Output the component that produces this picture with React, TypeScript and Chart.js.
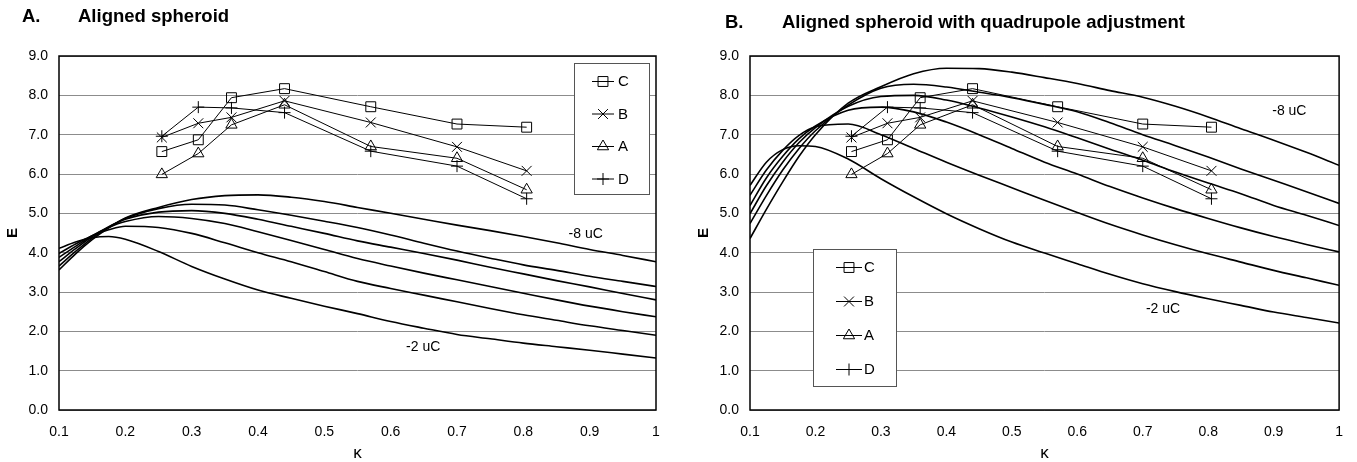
import React, { useEffect, useRef } from "react";
import { Chart, registerables } from "chart.js";
import { drawPoint } from "chart.js/helpers";

Chart.register(...registerables);

const FONT = "'Liberation Sans', Arial, Helvetica, sans-serif";

// ---- axis ticks ----
const xTickValues = [0.1, 0.2, 0.3, 0.4, 0.5, 0.6, 0.7, 0.8, 0.9, 1.0];
const yTickValues = [0, 1, 2, 3, 4, 5, 6, 7, 8, 9];

// ---- measured series (same in both panels) ----
const kappaData = [0.255, 0.31, 0.36, 0.44, 0.57, 0.7, 0.805];
const seriesNames = ["C", "B", "A", "D"];
const seriesC = [6.57, 6.87, 7.94, 8.17, 7.71, 7.27, 7.19];
const seriesB = [6.93, 7.29, 7.44, 7.86, 7.31, 6.69, 6.08];
const seriesA = [5.99, 6.52, 7.25, 7.76, 6.7, 6.4, 5.6];
const seriesD = [6.96, 7.7, 7.68, 7.56, 6.58, 6.2, 5.37];

// ---- model curves ----
const kappaCurve = [0.1, 0.125, 0.15, 0.175, 0.2, 0.25, 0.3, 0.35, 0.4, 0.45, 0.5, 0.55, 0.6, 0.65, 0.7, 0.75, 0.8, 0.85, 0.9, 0.95, 1.0];

// Panel A: aligned spheroid (-2 uC ... -8 uC)
const leftCurve1 = [4.11, 4.27, 4.38, 4.41, 4.34, 4.03, 3.65, 3.33, 3.05, 2.84, 2.64, 2.45, 2.25, 2.08, 1.92, 1.81, 1.7, 1.61, 1.52, 1.42, 1.32];
const leftCurve2 = [3.98, 4.22, 4.43, 4.58, 4.67, 4.64, 4.49, 4.25, 4.0, 3.77, 3.52, 3.27, 3.09, 2.92, 2.75, 2.58, 2.42, 2.28, 2.14, 2.02, 1.9];
const leftCurve3 = [3.88, 4.16, 4.43, 4.64, 4.79, 4.92, 4.87, 4.74, 4.53, 4.31, 4.08, 3.85, 3.66, 3.48, 3.31, 3.14, 2.97, 2.8, 2.64, 2.5, 2.37];
const leftCurve4 = [3.77, 4.1, 4.41, 4.66, 4.85, 5.03, 5.07, 5.0, 4.85, 4.67, 4.49, 4.3, 4.14, 3.98, 3.81, 3.63, 3.46, 3.29, 3.13, 2.96, 2.8];
const leftCurve5 = [3.66, 4.03, 4.37, 4.65, 4.87, 5.12, 5.23, 5.21, 5.09, 4.95, 4.8, 4.64, 4.45, 4.24, 4.04, 3.86, 3.69, 3.55, 3.4, 3.27, 3.14];
const leftCurve6 = [3.56, 3.97, 4.33, 4.63, 4.88, 5.15, 5.35, 5.45, 5.47, 5.41, 5.3, 5.15, 5.0, 4.85, 4.7, 4.56, 4.41, 4.25, 4.08, 3.93, 3.77];

// Panel B: with quadrupole adjustment
const rightCurve1 = [5.71, 6.3, 6.62, 6.72, 6.7, 6.38, 5.88, 5.42, 4.99, 4.61, 4.27, 3.99, 3.72, 3.45, 3.21, 3.01, 2.83, 2.66, 2.49, 2.35, 2.21];
const rightCurve2 = [5.46, 6.1, 6.6, 6.98, 7.2, 7.27, 7.0, 6.65, 6.3, 5.97, 5.65, 5.33, 5.02, 4.72, 4.45, 4.2, 3.97, 3.76, 3.55, 3.36, 3.17];
const rightCurve3 = [5.2, 5.9, 6.45, 6.9, 7.22, 7.62, 7.7, 7.58, 7.32, 7.0, 6.65, 6.3, 6.0, 5.68, 5.39, 5.12, 4.87, 4.63, 4.41, 4.21, 4.02];
const rightCurve4 = [4.99, 5.7, 6.3, 6.8, 7.18, 7.72, 7.97, 8.0, 7.88, 7.68, 7.45, 7.2, 6.92, 6.63, 6.35, 6.05, 5.77, 5.5, 5.2, 4.95, 4.69];
const rightCurve5 = [4.74, 5.45, 6.1, 6.65, 7.1, 7.75, 8.18, 8.28, 8.21, 8.08, 7.94, 7.77, 7.58, 7.3, 7.0, 6.72, 6.43, 6.13, 5.84, 5.55, 5.25];
const rightCurve6 = [4.36, 5.1, 5.8, 6.45, 7.0, 7.8, 8.22, 8.55, 8.69, 8.68, 8.59, 8.45, 8.3, 8.12, 7.95, 7.72, 7.45, 7.15, 6.86, 6.55, 6.22];

// ---- curve labels (data coordinates) ----
const leftNotes = [
  { text: "-8 uC", x: 0.894, y: 4.47 },
  { text: "-2 uC", x: 0.649, y: 1.61 },
];
const rightNotes = [
  { text: "-8 uC", x: 0.924, y: 7.59 },
  { text: "-2 uC", x: 0.731, y: 2.56 },
];

const markerStyle: Record<string, { style: string; radius: number }> = {
  C: { style: "rect", radius: 7 },
  B: { style: "crossRot", radius: 7 },
  A: { style: "triangle", radius: 6.5 },
  D: { style: "cross", radius: 6 },
};

const extrasPlugin = {
  id: "panelExtras",
  beforeDatasetsDraw(chart: any) {
    const { ctx, chartArea: a } = chart;
    ctx.save();
    ctx.strokeStyle = "#000";
    ctx.lineWidth = 1.5;
    ctx.strokeRect(a.left, a.top, a.right - a.left, a.bottom - a.top);
    ctx.restore();
  },
  afterDatasetsDraw(chart: any, _args: any, opts: any) {
    const { ctx } = chart;
    const xs = chart.scales.x;
    const ys = chart.scales.y;
    ctx.save();
    ctx.fillStyle = "#000";
    ctx.font = `14px ${FONT}`;
    ctx.textAlign = "center";
    ctx.textBaseline = "middle";
    for (const n of opts.notes || []) {
      ctx.fillText(n.text, xs.getPixelForValue(n.x), ys.getPixelForValue(n.y));
    }
    const L = opts.legend;
    if (L) {
      ctx.fillStyle = "#fff";
      ctx.fillRect(L.x, L.y, L.w, L.h);
      ctx.strokeStyle = "#555";
      ctx.lineWidth = 1;
      ctx.strokeRect(L.x + 0.5, L.y + 0.5, L.w, L.h);
      seriesNames.forEach((name, i) => {
        const cy = L.y + L.first + i * L.gap;
        ctx.strokeStyle = "#000";
        ctx.lineWidth = 1;
        ctx.beginPath();
        ctx.moveTo(L.lineX0, cy + 0.5);
        ctx.lineTo(L.lineX1, cy + 0.5);
        ctx.stroke();
        const m = markerStyle[name];
        ctx.fillStyle = "rgba(0,0,0,0)";
        drawPoint(ctx, { pointStyle: m.style, radius: m.radius, rotation: 0, borderWidth: 1 } as any, (L.lineX0 + L.lineX1) / 2, cy + 0.5);
        ctx.fillStyle = "#000";
        ctx.font = `15px ${FONT}`;
        ctx.textAlign = "left";
        ctx.textBaseline = "middle";
        ctx.fillText(name, L.textX, cy + 1);
      });
    }
    ctx.restore();
  },
};

function buildConfig(p: any) {
  const curveSets = p.curves.map((c: number[]) => ({
    data: kappaCurve.map((k, i) => ({ x: k, y: c[i] })),
    borderColor: "#000",
    borderWidth: 1.6,
    pointRadius: 0,
    cubicInterpolationMode: "monotone",
    fill: false,
  }));
  const seriesValues: Record<string, number[]> = { C: seriesC, B: seriesB, A: seriesA, D: seriesD };
  const dataSets = seriesNames.map((name) => ({
    label: name,
    data: kappaData.map((k, i) => ({ x: k, y: seriesValues[name][i] })),
    borderColor: "#000",
    borderWidth: 1,
    pointStyle: markerStyle[name].style,
    pointRadius: markerStyle[name].radius,
    pointBorderColor: "#000",
    pointBackgroundColor: "rgba(0,0,0,0)",
    pointBorderWidth: 1,
    tension: 0,
    fill: false,
  }));
  return {
    type: "line",
    data: { datasets: [...dataSets, ...curveSets] },
    plugins: [extrasPlugin],
    options: {
      responsive: false,
      animation: false,
      devicePixelRatio: 1,
      layout: { padding: { left: 0, top: p.top, right: p.right, bottom: 0 } },
      plugins: {
        legend: { display: false },
        tooltip: { enabled: false },
        panelExtras: { notes: p.notes, legend: p.legend },
      },
      scales: {
        x: {
          type: "linear",
          min: 0.1,
          max: 1.0,
          afterBuildTicks: (s: any) => {
            s.ticks = xTickValues.map((v) => ({ value: v }));
          },
          afterFit: (s: any) => {
            s.height = 52;
          },
          ticks: {
            autoSkip: false,
            maxRotation: 0,
            padding: 14,
            color: "#000",
            font: { family: FONT, size: 14 },
            callback: (v: number) => (Math.abs(v - 1) < 1e-9 ? "1" : Number(v).toFixed(1)),
          },
          grid: { display: false, drawTicks: false },
          border: { display: false },
          title: {
            display: true,
            text: "κ",
            color: "#000",
            font: { family: FONT, size: 17, lineHeight: 1 },
            padding: { top: 0, bottom: 0.5 },
          },
        },
        y: {
          type: "linear",
          min: 0,
          max: 9,
          afterBuildTicks: (s: any) => {
            s.ticks = yTickValues.map((v) => ({ value: v }));
          },
          afterFit: (s: any) => {
            s.width = p.yWidth;
          },
          ticks: {
            padding: 11,
            color: "#000",
            font: { family: FONT, size: 14 },
            callback: (v: number) => Number(v).toFixed(1),
          },
          grid: { color: "#8c8c8c", lineWidth: 1, drawTicks: false },
          border: { display: false },
          title: {
            display: true,
            text: "E",
            color: "#000",
            font: { family: FONT, size: 15, weight: "bold", lineHeight: 1.2 },
            padding: { top: p.yTitlePad, bottom: 0 },
          },
        },
      },
    },
  };
}

function Panel({ cfg, left, width }: { cfg: any; left: number; width: number }) {
  const ref = useRef<HTMLCanvasElement | null>(null);
  useEffect(() => {
    if (!ref.current) return;
    const chart = new Chart(ref.current, buildConfig(cfg) as any);
    return () => chart.destroy();
  }, []);
  return (
    <canvas
      ref={ref}
      width={width}
      height={462}
      style={{ position: "absolute", left, top: 0, width, height: 462, display: "block" }}
    />
  );
}

const leftPanel = {
  curves: [leftCurve1, leftCurve2, leftCurve3, leftCurve4, leftCurve5, leftCurve6],
  notes: leftNotes,
  top: 56,
  right: 22,
  yWidth: 59,
  yTitlePad: 4.3,
  legend: { x: 574, y: 63, w: 75, h: 131, first: 18, gap: 32.5, lineX0: 592, lineX1: 614, textX: 618 },
};

const rightPanel = {
  curves: [rightCurve1, rightCurve2, rightCurve3, rightCurve4, rightCurve5, rightCurve6],
  notes: rightNotes,
  top: 56,
  right: 9,
  yWidth: 72,
  yTitlePad: 17,
  legend: { x: 135, y: 249, w: 83, h: 137, first: 18, gap: 34, lineX0: 158, lineX1: 184, textX: 186 },
};

const titleStyle: React.CSSProperties = {
  position: "absolute",
  fontFamily: FONT,
  fontWeight: "bold",
  fontSize: "18.5px",
  lineHeight: "18.5px",
  whiteSpace: "nowrap",
  color: "#000",
};

export default function App() {
  return (
    <div style={{ position: "absolute", left: 0, top: 0, width: 1357, height: 462, background: "#fff", overflow: "hidden" }}>
      <Panel cfg={leftPanel} left={0} width={678} />
      <Panel cfg={rightPanel} left={678} width={679} />
      <span style={{ ...titleStyle, left: 22, top: 7 }}>A.</span>
      <span style={{ ...titleStyle, left: 78, top: 7 }}>Aligned spheroid</span>
      <span style={{ ...titleStyle, left: 725, top: 12.6 }}>B.</span>
      <span style={{ ...titleStyle, left: 782, top: 12.6 }}>Aligned spheroid with quadrupole adjustment</span>
    </div>
  );
}
